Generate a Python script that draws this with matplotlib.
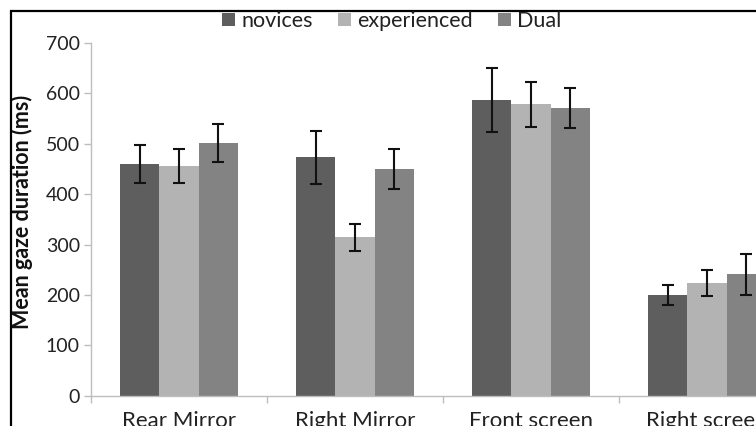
import matplotlib
matplotlib.use("Agg")
import matplotlib.pyplot as plt
import numpy as np
from matplotlib.patches import Patch, Rectangle

# ----------------------------------------------------------------------------
# Data
# ----------------------------------------------------------------------------
categories = ["Rear Mirror", "Right Mirror", "Front screen", "Right screen"]
groups = ["novices", "experienced", "Dual"]

novices = [460, 473, 587, 200]
experienced = [456, 314, 578, 224]
dual = [502, 450, 571, 241]

novices_err = [38, 52, 64, 20]
experienced_err = [33, 27, 45, 26]
dual_err = [38, 39, 40, 41]

yticks = [0, 100, 200, 300, 400, 500, 600, 700]

COLORS = ["#5e5e5e", "#b3b3b3", "#838383"]
AXIS_GREY = "#bdbdbd"
TEXT = "#222222"

plt.rcParams.update({
    "font.family": ["Lato", "DejaVu Sans"],
    "font.size": 14,
})

W, H = 756, 426
fig = plt.figure(figsize=(W / 100, H / 100), dpi=100)

# axes run past the right edge: the reference is a cropped screenshot
left, right = 91, 795
bottom, top = 395.7, 43
ax = fig.add_axes([left / W, (H - bottom) / H,
                   (right - left) / W, (bottom - top) / H])

x = np.arange(len(categories))
w = 0.222
series = [novices, experienced, dual]
errs = [novices_err, experienced_err, dual_err]
for i, (vals, err, col) in enumerate(zip(series, errs, COLORS)):
    ax.bar(x + (i - 1) * w, vals, w, color=col, edgecolor="none", zorder=2)
    ax.errorbar(x + (i - 1) * w, vals, yerr=err, fmt="none", ecolor="#111111",
                elinewidth=1.5, capsize=4.2, capthick=1.5, zorder=3)

ax.set_xlim(-0.5, len(categories) - 0.5)
ax.set_ylim(0, 700)
ax.set_yticks(yticks)
ax.set_xticks(x)
ax.set_xticklabels(categories, fontsize=16)
ax.set_xticks(np.arange(len(categories) + 1) - 0.5, minor=True)
ax.tick_params(axis="x", which="major", length=0, pad=11, labelcolor=TEXT)
ax.tick_params(axis="x", which="minor", length=5, color=AXIS_GREY, width=1)
ax.tick_params(axis="y", length=5, color=AXIS_GREY, width=1, pad=3,
               labelsize=14, labelcolor=TEXT)
for s in ("top", "right"):
    ax.spines[s].set_visible(False)
for s in ("left", "bottom"):
    ax.spines[s].set_color(AXIS_GREY)
    ax.spines[s].set_linewidth(1)

ax.set_ylabel("Mean gaze duration (ms)", fontsize=15.5, fontweight="bold",
              color="#111111")
ax.yaxis.set_label_coords((33 - left) / (right - left), 0.52)

handles = [Patch(facecolor=c, edgecolor="none") for c in COLORS]
fig.legend(handles, groups, loc="center", bbox_to_anchor=(392 / W, 1 - 21 / H),
           ncol=3, frameon=False, fontsize=15.5, handlelength=0.6,
           handleheight=0.6, handletextpad=0.3, columnspacing=1.15,
           borderpad=0, labelcolor=TEXT)

# black frame of the screenshot (top and left edges visible)
fig.add_artist(Rectangle((11 / W, -0.1), 1.2, 1 - 11 / H + 0.1,
                         transform=fig.transFigure, fill=False,
                         edgecolor="black", linewidth=1.6, clip_on=False))

fig.savefig("out.png", dpi=100)
